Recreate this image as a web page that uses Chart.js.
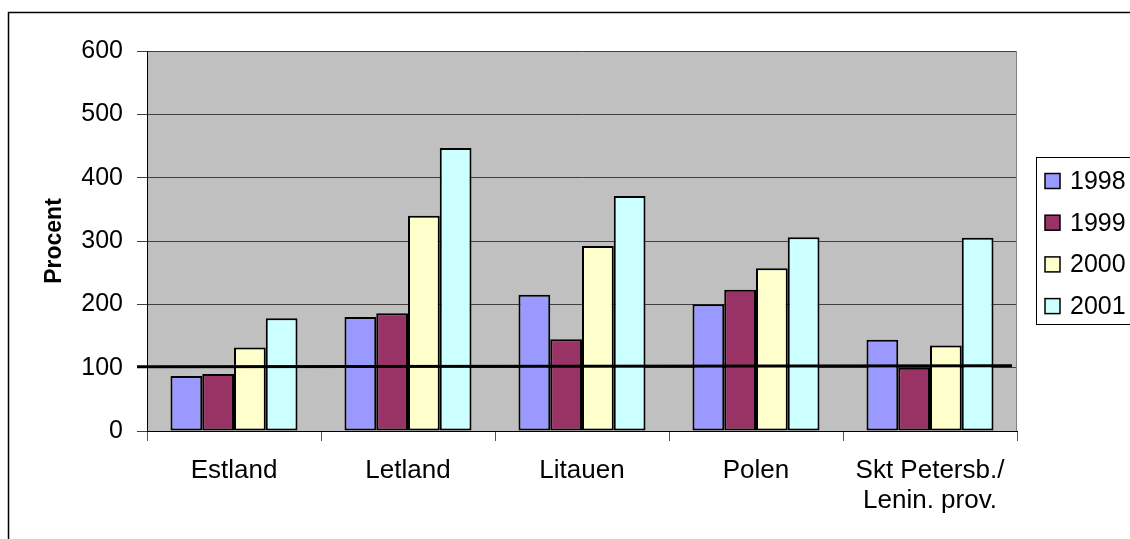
<!DOCTYPE html>
<html><head><meta charset="utf-8">
<script src="https://cdn.jsdelivr.net/npm/chart.js@4/dist/chart.umd.min.js"></script>
<style>html,body{margin:0;padding:0;background:#fff}#wrap{width:1130px;height:539px;position:relative;overflow:hidden}</style>
</head><body><div id="wrap"><canvas id="c" width="1130" height="539"></canvas></div>
<script>
const categories = ['Estland', 'Letland', 'Litauen', 'Polen', ['Skt Petersb./', 'Lenin. prov.']];
const seriesNames = ['1998', '1999', '2000', '2001'];
const v1998 = [87, 180, 215, 200, 144];
const v1999 = [90, 186, 145, 223, 100];
const v2000 = [132, 340, 292, 257, 135];
const v2001 = [178, 447, 371, 306, 305];
const yMin = 0, yMax = 600, yStep = 100;
const referenceValue = 100;
const axisTitle = 'Procent';

const colors = ['#9999FF', '#993366', '#FFFFCC', '#CCFFFF'];
const FONT = "'Liberation Sans', Arial, sans-serif";
const seriesValues = [v1998, v1999, v2000, v2001];

const deco = {
  id: 'deco',
  beforeDraw(chart) {
    const ctx = chart.ctx, a = chart.chartArea;
    ctx.save();
    ctx.fillStyle = '#ffffff';
    ctx.fillRect(0, 0, chart.width, chart.height);
    ctx.strokeStyle = '#000';
    ctx.lineWidth = 1.5;
    ctx.strokeRect(8.5, 12.5, chart.width + 20, chart.height + 20);
    ctx.fillStyle = '#C0C0C0';
    ctx.fillRect(a.left, a.top, a.right - a.left, a.bottom - a.top);
    ctx.restore();
  },
  afterDatasetsDraw(chart) {
    const ctx = chart.ctx, a = chart.chartArea;
    const y = chart.scales.y.getPixelForValue(referenceValue);
    ctx.save();
    ctx.strokeStyle = '#808080';
    ctx.lineWidth = 1;
    ctx.beginPath();
    ctx.moveTo(a.right - 0.5, a.top);
    ctx.lineTo(a.right - 0.5, a.bottom);
    ctx.stroke();
    ctx.strokeStyle = '#000';
    ctx.lineWidth = 3;
    ctx.beginPath();
    ctx.moveTo(a.left - 10, y - 1);
    ctx.lineTo(a.right - 5, y - 2);
    ctx.stroke();
    // legend
    const lx = 1036.5, ly = 157.5;
    ctx.lineWidth = 1;
    ctx.strokeStyle = '#000';
    ctx.fillStyle = '#fff';
    ctx.fillRect(lx, ly, 200, 167);
    ctx.strokeRect(lx, ly, 200, 167);
    ctx.font = '25px ' + FONT;
    ctx.textBaseline = 'middle';
    ctx.textAlign = 'left';
    chart.data.datasets.forEach((ds, i) => {
      const cy = 181 + i * 41.7;
      ctx.fillStyle = ds.backgroundColor;
      ctx.fillRect(1045, cy - 7.5, 15, 15);
      ctx.strokeStyle = '#000';
      ctx.lineWidth = 1.5;
      ctx.strokeRect(1045, cy - 7.5, 15, 15);
      ctx.fillStyle = '#000';
      ctx.fillText(ds.label, 1070, cy + 1);
    });
    ctx.restore();
  }
};

new Chart(document.getElementById('c'), {
  type: 'bar',
  data: {
    labels: categories,
    datasets: seriesNames.map((n, i) => ({
      label: n,
      data: seriesValues[i],
      backgroundColor: colors[i],
      borderColor: '#000',
      borderWidth: 2,
      borderSkipped: false,
      categoryPercentage: 0.73,
      barPercentage: 1.0
    }))
  },
  options: {
    responsive: false,
    devicePixelRatio: 1,
    animation: false,
    layout: { padding: { left: 0, top: 51, right: 113, bottom: 0 } },
    plugins: { legend: { display: false }, tooltip: { enabled: false } },
    scales: {
      x: {
        grid: { display: true, drawOnChartArea: false, drawTicks: true, tickLength: 10, color: '#555', offset: true },
        border: { display: true, color: '#000', width: 1 },
        ticks: { color: '#000', font: { family: FONT, size: 26, lineHeight: 1.15 }, padding: 15, maxRotation: 0, autoSkip: false },
        afterFit(s) { s.height = 108; }
      },
      y: {
        min: yMin, max: yMax,
        grid: { color: '#404040', lineWidth: 1, tickLength: 10, drawTicks: true },
        border: { display: true, color: '#000', width: 1 },
        ticks: { stepSize: yStep, color: '#000', font: { family: FONT, size: 25 }, padding: 14 },
        title: { display: true, text: axisTitle, color: '#000', font: { family: FONT, size: 23, weight: 'bold' }, padding: { top: 41, bottom: 0 } },
        afterFit(s) { s.width = 147; }
      }
    }
  },
  plugins: [deco]
});
</script>
</body></html>
